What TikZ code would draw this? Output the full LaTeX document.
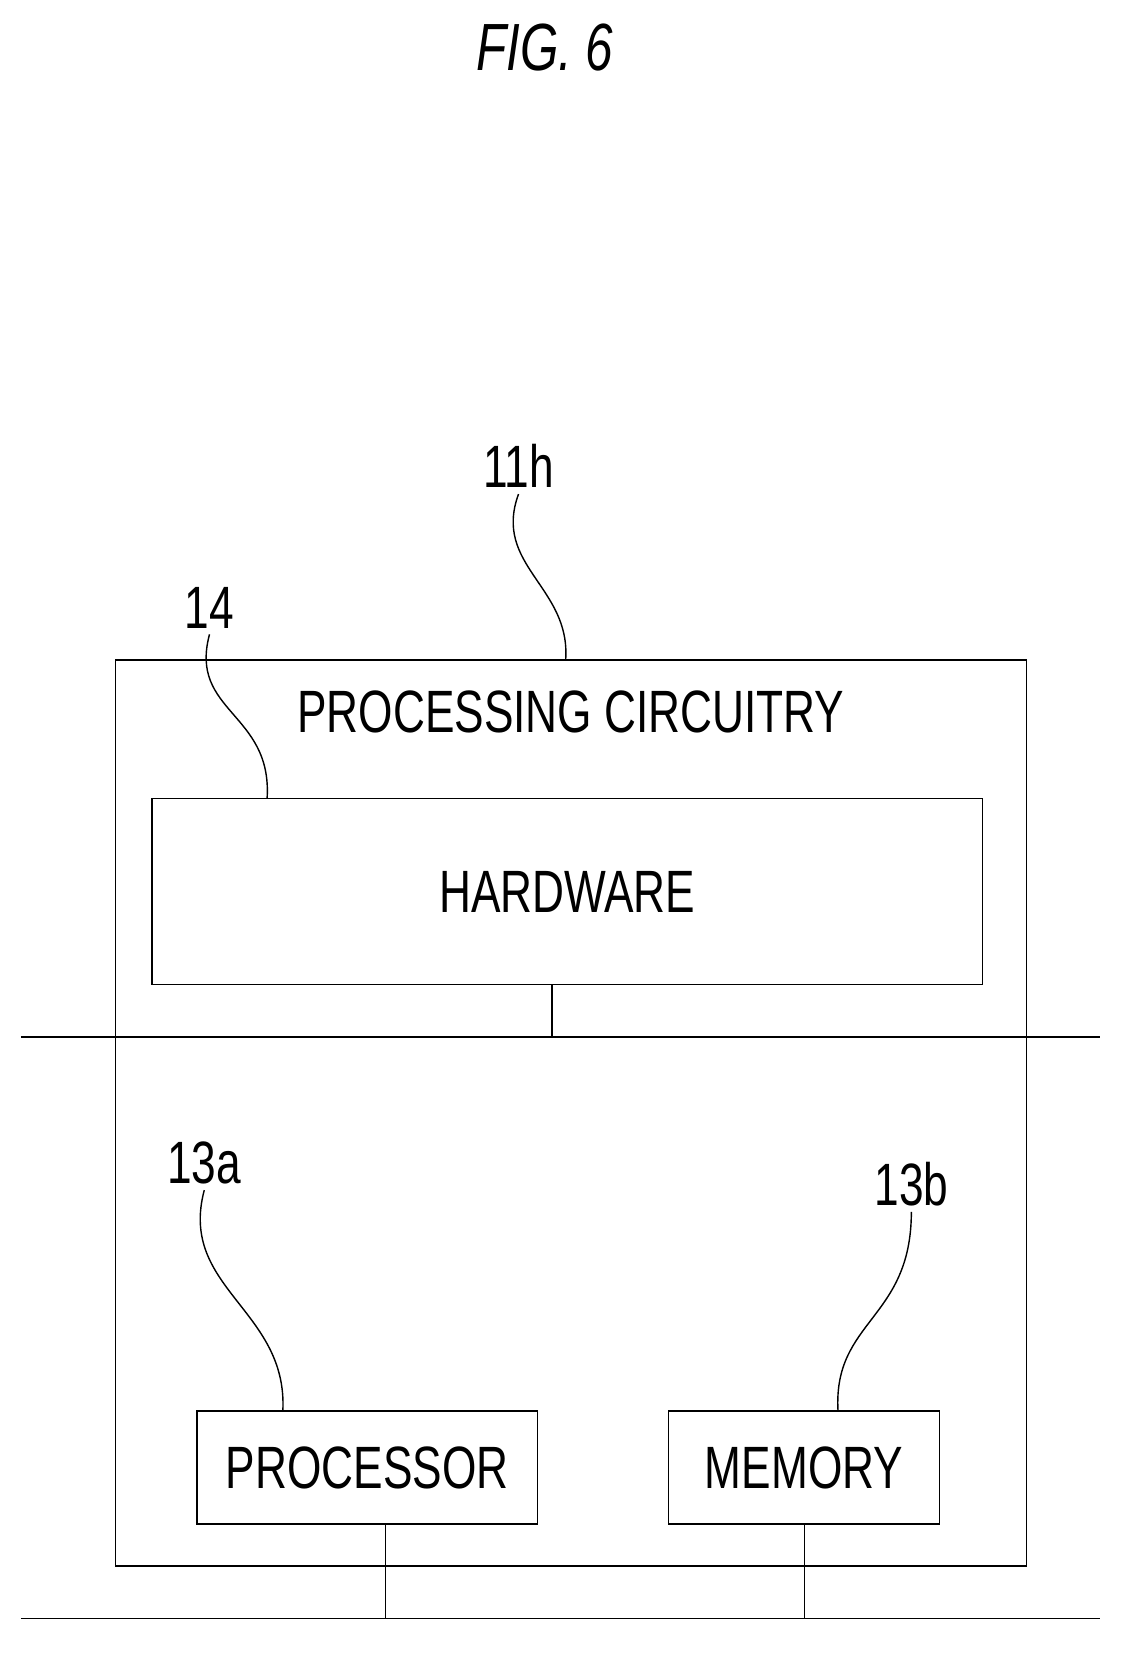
\documentclass[tikz,border=0pt]{standalone}
\usepackage{fontspec}
\setmainfont{Liberation Sans}[FakeStretch=0.74]
\usepackage{tikz}
\usetikzlibrary{positioning}

\tikzset{
	blk/.style={draw, thick, inner sep=0pt},
	txt/.style={font=\fontsize{34}{38}\selectfont},
	lead/.style={thick},
}

\begin{document}
\begin{tikzpicture}[x=0.020947cm, y=-0.020947cm]
	\useasboundingbox (0, 0) rectangle (1075, 1578) ;

	\node[font=\itshape\fontsize{38}{40}\selectfont] (fig) at (520, 45) {FIG. 6} ;

	% outer and inner boxes
	\draw[thick] (110, 630) rectangle (980, 1495) ;
	\node[txt] (title) at (545, 680) {PROCESSING CIRCUITRY} ;
	\node[blk, minimum width=793*0.020947cm, minimum height=178*0.020947cm, txt] (hw) at (541.5, 851) {HARDWARE} ;
	\node[blk, minimum width=325*0.020947cm, minimum height=108*0.020947cm, txt] (proc) at (350.5, 1401) {PROCESSOR} ;
	\node[blk, minimum width=259*0.020947cm, minimum height=108*0.020947cm, txt] (mem) at (767.5, 1401) {MEMORY} ;

	% buses
	\coordinate (busa) at (527, 990) ;
	\coordinate (busp) at (368, 1545) ;
	\coordinate (busm) at (768, 1545) ;
	\draw[thick] (20, 990) -- (1050, 990) ;
	\draw[thick] (20, 1545) -- (1050, 1545) ;
	\draw[thick] (hw.south -| busa) -- (busa) ;
	\draw[thick] (proc.south -| busp) -- (busp) ;
	\draw[thick] (mem.south -| busm) -- (busm) ;

	% reference numerals
	\node[txt] (l11h) at (495, 445) {11h} ;
	\node[txt] (l14) at (200, 580) {14} ;
	\node[txt] (l13a) at (195, 1110) {13a} ;
	\node[txt] (l13b) at (870, 1130) {13b} ;
	\draw[lead] (l11h.south) .. controls (470, 540) and (545, 560) .. (540, 630) ;
	\draw[lead] (l14.south) .. controls (180, 680) and (260, 680) .. (255, 762) ;
	\draw[lead] (l13a.south) .. controls (170, 1230) and (275, 1250) .. (270, 1347) ;
	\draw[lead] (l13b.south) .. controls (870, 1260) and (795, 1260) .. (800, 1347) ;
\end{tikzpicture}
\end{document}
